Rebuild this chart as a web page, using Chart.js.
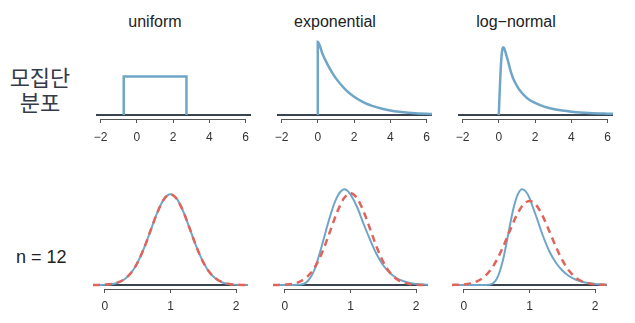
<!DOCTYPE html>
<html>
<head>
<meta charset="utf-8">
<script src="https://cdn.jsdelivr.net/npm/chart.js@4"></script>
<style>
  html, body { margin: 0; padding: 0; background: #fff; }
  #wrap { position: relative; width: 635px; height: 323px; overflow: hidden; background: #fff; }
  #wrap canvas { position: absolute; }
  .lbl { position: absolute; white-space: nowrap; line-height: 1; font-family: 'Liberation Sans', Arial, sans-serif; color: #222; }
  .title { font-size: 16px; transform: translateX(-50%); top: 14px; }
  .row { font-family: 'Noto Sans CJK KR', sans-serif; font-size: 22px; line-height: 25px; color: #353a48; text-align: center; }
</style>
</head>
<body>
<div id="wrap">
  <div class="lbl title" style="left:155px">uniform</div>
  <div class="lbl title" style="left:335px">exponential</div>
  <div class="lbl title" style="left:516px">log−normal</div>
  <div class="lbl row" style="left:4px;top:64px;width:72px">모집단<br>분포</div>
  <div class="lbl" style="left:16px;top:248px;font-size:18px">n = 12</div>

  <canvas id="popUniform" width="183" height="113" style="left:82px;top:36px"></canvas>
  <canvas id="popExp" width="183" height="113" style="left:263px;top:36px"></canvas>
  <canvas id="popLnorm" width="183" height="113" style="left:444px;top:36px"></canvas>
  <canvas id="meanUniform" width="183" height="134" style="left:79px;top:185px"></canvas>
  <canvas id="meanExp" width="183" height="134" style="left:259px;top:185px"></canvas>
  <canvas id="meanLnorm" width="183" height="134" style="left:438px;top:185px"></canvas>
</div>
<script>
// axes
const popTicks = [-2, 0, 2, 4, 6];
const popRange = [-2.25, 6.3];
const meanTicks = [0, 1, 2];
const meanRange = [-0.18, 2.18];

// population densities (relative heights)
const uniformX = [-0.72, -0.72, 2.74, 2.74];
const uniformY = [0, 0.488, 0.488, 0];

const expX = [0, 0, 0.25, 0.5, 0.75, 1, 1.5, 2, 2.5, 3, 3.5, 4, 4.5, 5, 5.5, 6, 6.3];
const expY = [0, 0.928, 0.78, 0.657, 0.553, 0.464, 0.329, 0.232, 0.164, 0.116, 0.082, 0.058, 0.041, 0.029, 0.021, 0.015, 0.012];

const lnormX = [0, 0.05, 0.1, 0.15, 0.2, 0.24, 0.3, 0.4, 0.5, 0.65, 0.8, 1.0, 1.2, 1.4, 1.7, 2.0, 2.5, 3.0, 3.5, 4.0, 5.0, 6.0, 6.3];
const lnormY = [0, 0.30, 0.56, 0.74, 0.835, 0.858, 0.845, 0.77, 0.69, 0.56, 0.46, 0.37, 0.30, 0.25, 0.19, 0.155, 0.107, 0.077, 0.057, 0.043, 0.026, 0.017, 0.015];

// sampling distribution of the mean, n = 12
const gridX = [-0.18, -0.1, 0, 0.1, 0.2, 0.3, 0.4, 0.5, 0.6, 0.7, 0.8, 0.9, 1.0,
               1.1, 1.2, 1.3, 1.4, 1.5, 1.6, 1.7, 1.8, 1.9, 2.0, 2.1, 2.18];

const uniformMean = [0, 0.0005, 0.003, 0.008, 0.023, 0.058, 0.121, 0.226, 0.373, 0.551, 0.726, 0.858, 0.907,
                     0.858, 0.726, 0.551, 0.373, 0.226, 0.121, 0.058, 0.023, 0.008, 0.003, 0.0005, 0];
const uniformNormal = [0.0005, 0.001, 0.004, 0.010, 0.026, 0.060, 0.122, 0.226, 0.373, 0.551, 0.726, 0.858, 0.907,
                       0.858, 0.726, 0.551, 0.373, 0.226, 0.122, 0.060, 0.026, 0.010, 0.004, 0.001, 0.0005];

const expMeanX = [-0.18, 0, 0.2, 0.25, 0.3, 0.35, 0.4, 0.45, 0.5, 0.55, 0.6, 0.65, 0.7, 0.75, 0.8, 0.85, 0.9, 0.95,
                  1.0, 1.1, 1.2, 1.3, 1.4, 1.5, 1.6, 1.7, 1.8, 1.9, 2.0, 2.18];
const expMean = [0, 0, 0.002, 0.005, 0.015, 0.04, 0.085, 0.15, 0.25, 0.36, 0.48, 0.60, 0.71, 0.81, 0.885, 0.935, 0.957, 0.945,
                 0.905, 0.78, 0.61, 0.45, 0.305, 0.195, 0.12, 0.07, 0.04, 0.021, 0.011, 0.003];
const expNormal = [0.0005, 0.001, 0.004, 0.010, 0.027, 0.061, 0.124, 0.228, 0.377, 0.557, 0.734, 0.867, 0.917,
                   0.867, 0.734, 0.557, 0.377, 0.228, 0.124, 0.061, 0.027, 0.010, 0.004, 0.001, 0.0005];

const lnMeanX = [-0.18, 0.3, 0.35, 0.4, 0.45, 0.5, 0.55, 0.6, 0.65, 0.7, 0.75, 0.8, 0.85, 0.89, 0.95, 1.0, 1.05, 1.1,
                 1.2, 1.3, 1.4, 1.5, 1.6, 1.7, 1.8, 1.9, 2.0, 2.18];
const lnMean = [0, 0, 0.001, 0.005, 0.02, 0.06, 0.14, 0.26, 0.42, 0.59, 0.75, 0.87, 0.94, 0.957, 0.93, 0.87, 0.78, 0.69,
                0.50, 0.34, 0.225, 0.145, 0.09, 0.055, 0.033, 0.019, 0.01, 0.003];
const lnNormal = [0.001, 0.002, 0.006, 0.016, 0.037, 0.076, 0.144, 0.248, 0.385, 0.541, 0.691, 0.80, 0.84,
                  0.80, 0.691, 0.541, 0.385, 0.248, 0.144, 0.076, 0.037, 0.016, 0.006, 0.002, 0.001];

const blue = '#6fa6c8';
const red = '#e0645a';
const baseColor = '#3a4350';
const axisColor = '#555';

const pts = (xs, ys) => xs.map((x, i) => ({ x, y: ys[i] }));

// R-style axis: the line only runs from the first tick to the last
const axisLine = {
  id: 'axisLine',
  afterDraw(chart) {
    const sx = chart.scales.x;
    const t = sx.ticks;
    const y = Math.round(chart.chartArea.bottom) + 0.5;
    const ctx = chart.ctx;
    ctx.save();
    ctx.strokeStyle = axisColor;
    ctx.lineWidth = 1;
    ctx.beginPath();
    ctx.moveTo(sx.getPixelForValue(t[0].value), y);
    ctx.lineTo(sx.getPixelForValue(t[t.length - 1].value), y);
    ctx.stroke();
    ctx.restore();
  }
};

function baseline(range) {
  return { data: [{ x: range[0], y: 0 }, { x: range[1], y: 0 }], borderColor: baseColor, borderWidth: 2 };
}

function curve(data, width, smooth) {
  return {
    data, borderColor: blue, borderWidth: width, clip: false,
    cubicInterpolationMode: smooth ? 'monotone' : 'default'
  };
}

function dashed(data) {
  return {
    data, borderColor: red, borderWidth: 2.5, borderDash: [7, 5], clip: false,
    cubicInterpolationMode: 'monotone'
  };
}

function panel(id, range, ticks, yRange, tickPad, datasets) {
  return new Chart(document.getElementById(id), {
    type: 'line',
    data: { datasets },
    options: {
      responsive: false,
      animation: false,
      devicePixelRatio: 1,
      layout: { padding: { left: 14, right: 14, top: 0, bottom: 0 } },
      plugins: { legend: { display: false }, tooltip: { enabled: false } },
      elements: { point: { radius: 0 } },
      scales: {
        x: {
          type: 'linear',
          min: range[0],
          max: range[1],
          afterBuildTicks: s => { s.ticks = ticks.map(v => ({ value: v })); },
          afterFit: s => { s.height = 30; },
          border: { display: false },
          grid: { drawOnChartArea: false, tickLength: 4, color: axisColor },
          ticks: {
            autoSkip: false,
            maxRotation: 0,
            padding: tickPad,
            color: '#333',
            font: { family: 'Liberation Sans', size: 12 },
            callback: v => String(v).replace('-', '\u2212')
          }
        },
        y: { display: false, min: yRange[0], max: yRange[1] }
      }
    },
    plugins: [axisLine]
  });
}

const popY = [-0.05, 1.0];
const meanY = [-0.04, 1.0];

panel('popUniform', popRange, popTicks, popY, 7, [
  curve(pts(uniformX, uniformY), 2.5, false), baseline(popRange)
]);
panel('popExp', popRange, popTicks, popY, 7, [
  curve(pts(expX, expY), 2.5, true), baseline(popRange)
]);
panel('popLnorm', popRange, popTicks, popY, 7, [
  curve(pts(lnormX, lnormY), 2.5, true), baseline(popRange)
]);

panel('meanUniform', meanRange, meanTicks, meanY, 6, [
  dashed(pts(gridX, uniformNormal)), curve(pts(gridX, uniformMean), 2, true), baseline(meanRange)
]);
panel('meanExp', meanRange, meanTicks, meanY, 6, [
  dashed(pts(gridX, expNormal)), curve(pts(expMeanX, expMean), 2, true), baseline(meanRange)
]);
panel('meanLnorm', meanRange, meanTicks, meanY, 6, [
  dashed(pts(gridX, lnNormal)), curve(pts(lnMeanX, lnMean), 2, true), baseline(meanRange)
]);
</script>
</body>
</html>
